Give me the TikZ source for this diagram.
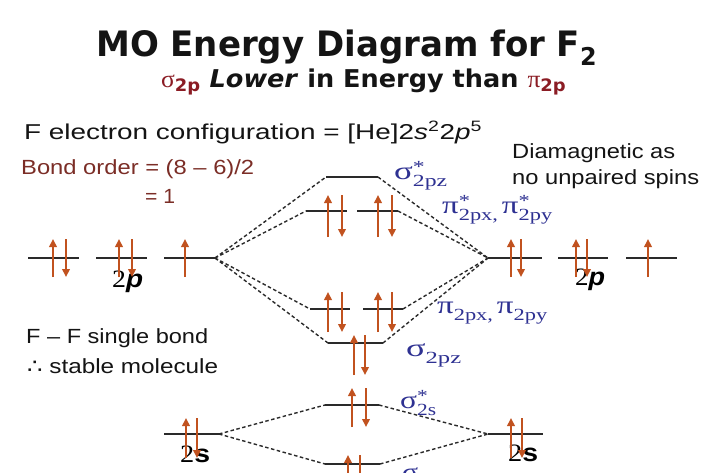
\documentclass[tikz,border=0pt]{standalone}
\usepackage{graphicx}
\usepackage{fontspec}
\setmainfont{Liberation Sans}
\newfontfamily\ttlfont{DejaVu Sans}
\newfontfamily\grfont{Liberation Serif}
\newfontfamily\symfont{DejaVu Sans}
\usetikzlibrary{arrows.meta}
\definecolor{spincol}{HTML}{C1521F}
\definecolor{lvlcol}{HTML}{2A2A2A}
\definecolor{dashcol}{HTML}{2A2A2A}
\definecolor{mocol}{HTML}{2E3192}
\definecolor{subred}{HTML}{8B1C24}
\definecolor{bondred}{HTML}{7B2D26}
\definecolor{txtcol}{HTML}{141414}
\tikzset{
  level/.style={draw=lvlcol,line width=1.6pt},
  corr/.style={draw=dashcol,line width=1.4pt,dash pattern=on 3.5pt off 2.5pt},
  spin/.style={draw=spincol,line width=2.5pt,-{Triangle[length=8pt,width=7.5pt]}},
  txt/.style={inner sep=0pt,anchor=base west,text=txtcol},
  molab/.style={inner sep=0pt,anchor=base west,text=mocol}
}
\newcommand{\lvl}[4]{\coordinate (#1W) at (#2,#4); \coordinate (#1E) at (#3,#4); \draw[level] (#1W) -- (#1E);}
\newcommand{\spinup}[3]{\draw[spin] (#1,#2) -- (#1,#3);}
\newcommand{\spindn}[3]{\draw[spin] (#1,#3) -- (#1,#2);}
\newcommand{\mo}[3]{{\fontsize{25}{25}\selectfont #1}\makebox[0pt][l]{\raisebox{6.5pt}{\fontsize{17}{17}\selectfont #2}}\raisebox{-7pt}{\fontsize{17}{17}\selectfont #3}}
\newcommand{\fitw}[2]{\resizebox{#1}{\height}{#2}}
\begin{document}
\begin{tikzpicture}[x=1pt,y=-1pt]
\useasboundingbox[fill=white] (0,0) rectangle (720,472);

% ---- texts ----
\node[txt] (title) at (96,56) {\fitw{501pt}{\ttlfont\bfseries\fontsize{35}{38}\selectfont MO Energy Diagram for F\textsubscript{2}}};
\node[txt] (subtitle) at (161,87) {\fitw{405pt}{\ttlfont\bfseries\fontsize{24.5}{26}\selectfont\textcolor{subred}{{\grfont\mdseries σ}\textsubscript{2p}} \textit{Lower} in Energy than \textcolor{subred}{{\grfont\mdseries π}\textsubscript{2p}}}};
\node[txt] (config) at (24,139) {\fitw{458pt}{\fontsize{21.5}{23}\selectfont F electron configuration = [He]2\textit{s}\textsuperscript{2}2\textit{p}\textsuperscript{5}}};
\node[txt,text=bondred] (bond1) at (21,174) {\fitw{233pt}{\fontsize{20.5}{22}\selectfont Bond order = (8 – 6)/2}};
\node[txt,text=bondred] (bond2) at (145,203) {\fitw{30pt}{\fontsize{20.5}{22}\selectfont = 1}};
\node[txt] (dia1) at (512,158) {\fitw{163pt}{\fontsize{20.5}{22}\selectfont Diamagnetic as}};
\node[txt] (dia2) at (512,184) {\fitw{187pt}{\fontsize{20.5}{22}\selectfont no unpaired spins}};
\node[txt] (ff1) at (26,343) {\fitw{182pt}{\fontsize{20.5}{22}\selectfont F – F single bond}};
\node[txt] (ff2) at (27,373) {\fitw{191pt}{\fontsize{20.5}{22}\selectfont {\symfont ∴} stable molecule}};

% ---- MO labels ----
\node[molab] (lsgs) at (394,179) {\fitw{53pt}{\grfont\mo{σ}{*}{2pz}}};
\node[molab] (lpis) at (442,213) {\fitw{110pt}{\grfont\mo{π}{*}{2px,}\hspace{3pt}\mo{π}{*}{2py}}};
\node[molab] (lpi) at (437,313) {\fitw{110pt}{\grfont\mo{π}{}{2px,}\hspace{3pt}\mo{π}{}{2py}}};
\node[molab] (lsg) at (406,356) {\fitw{55pt}{\grfont\mo{σ}{}{2pz}}};
\node[molab] (lsss) at (400,408) {\fitw{36pt}{\grfont\mo{σ}{*}{2s}}};
\node[molab] (lss) at (402,480) {\fitw{34pt}{\grfont\mo{σ}{}{2s}}};

% ---- AO labels ----
\node[txt,text=black] (l2p) at (112,287) {\fitw{31pt}{\fontsize{25}{26}\selectfont{\grfont 2}\textbf{\textit{p}}}};
\node[txt,text=black] (r2p) at (575,285) {\fitw{30pt}{\fontsize{25}{26}\selectfont{\grfont 2}\textbf{\textit{p}}}};
\node[txt,text=black] (l2s) at (180,462) {\fitw{30pt}{\fontsize{25}{26}\selectfont{\grfont 2}\textbf{s}}};
\node[txt,text=black] (r2s) at (508,461) {\fitw{30pt}{\fontsize{25}{26}\selectfont{\grfont 2}\textbf{s}}};

% ---- levels ----
\lvl{Lpa}{28}{79}{258} \lvl{Lpb}{96}{147}{258} \lvl{Lpc}{164}{215}{258}
\lvl{Rpa}{488}{542}{258} \lvl{Rpb}{558}{608}{258} \lvl{Rpc}{626}{677}{258}
\lvl{sgs}{326}{378}{177}
\lvl{pisa}{306}{347}{211} \lvl{pisb}{357}{398}{211}
\lvl{pia}{310}{350}{309} \lvl{pib}{363}{403}{309}
\lvl{sg}{328}{383}{343}
\lvl{sss}{325}{379}{405}
\lvl{ss}{325}{380}{464}
\lvl{Ls}{164}{219}{434} \lvl{Rs}{488}{543}{434}

% ---- correlation lines ----
\draw[corr] (LpcE) -- (sgsW);
\draw[corr] (LpcE) -- (pisaW);
\draw[corr] (LpcE) -- (piaW);
\draw[corr] (LpcE) -- (sgW);
\draw[corr] (sgsE) -- (RpaW);
\draw[corr] (pisbE) -- (RpaW);
\draw[corr] (pibE) -- (RpaW);
\draw[corr] (sgE) -- (RpaW);
\draw[corr] (LsE) -- (sssW);
\draw[corr] (LsE) -- (ssW);
\draw[corr] (sssE) -- (RsW);
\draw[corr] (ssE) -- (RsW);

% ---- spins ----
\spinup{53}{277}{239} \spindn{66}{277}{239}
\spinup{119}{277}{239} \spindn{132}{277}{239}
\spinup{185}{277}{239}
\spinup{511}{277}{239} \spindn{521}{277}{239}
\spinup{576}{277}{239} \spindn{587}{277}{239}
\spinup{648}{277}{239}
\spinup{328}{237}{195} \spindn{342}{237}{195}
\spinup{378}{237}{195} \spindn{392}{237}{195}
\spinup{328}{332}{292} \spindn{342}{332}{292}
\spinup{378}{332}{292} \spindn{392}{332}{292}
\spinup{354}{375}{335} \spindn{365}{375}{335}
\spinup{352}{427}{388} \spindn{366}{427}{388}
\spinup{348}{505}{455} \spindn{360}{505}{455}
\spinup{186}{458}{418} \spindn{197}{458}{418}
\spinup{511}{458}{418} \spindn{522}{458}{418}
\end{tikzpicture}
\end{document}
